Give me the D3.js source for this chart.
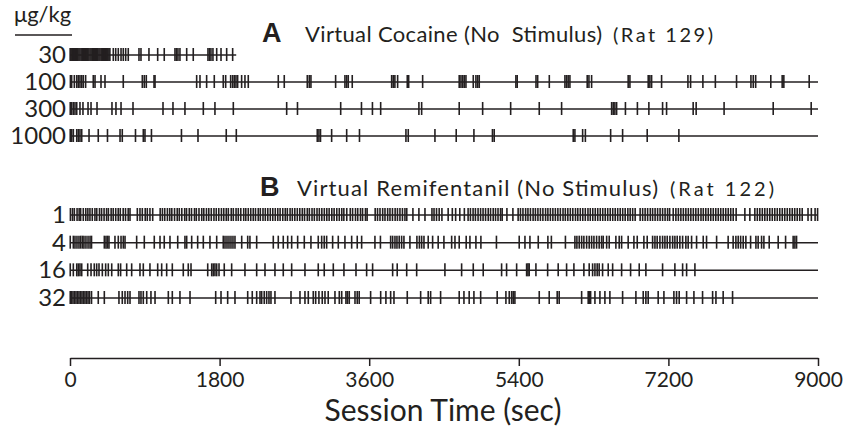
<!DOCTYPE html>
<html>
<head>
<meta charset="utf-8">
<script src="https://cdn.jsdelivr.net/npm/d3@7"></script>
<style>
  body { margin: 0; background: #fff; }
  text { font-family: Lato, "Open Sans", sans-serif; fill: #231f20; }
</style>
</head>
<body>
<div id="chart"></div>
<script>
// session time axis (sec)
const sessionEnd = 9000
const xTicks = [0, 1800, 3600, 5400, 7200, 9000]

// A: virtual cocaine, rat 129 (doses in ug/kg), event times in sec
const cocaineDoses = ["30", "100", "300", "1000"]
const cocaineEnd = [2000, 9000, 9000, 9000]
const coc30 = [2, 14, 27, 40, 54, 66, 80, 93, 107, 120, 134, 147, 160, 174, 187, 200, 214, 227, 241, 254, 268, 281, 294, 308, 321, 334, 348, 361, 375, 388, 401, 415, 428, 441, 455, 468, 480,
  521, 550, 581, 614, 641, 670, 701, 830, 854, 950, 1055, 1134, 1263, 1281, 1299, 1323, 1404, 1483,
  1660, 1678, 1696, 1720, 1765, 1817, 1885, 1957]
const coc100 = [5, 20, 52, 81, 100, 120, 141, 160, 188, 280, 301, 373, 421, 641, 870, 894, 918, 1011, 1023,
  1524, 1564, 1644, 1736, 1844, 1873, 1933, 1957, 1977, 1997, 2017, 2065, 2105, 2145, 2506, 2578,
  2855, 2879, 2899, 3196, 3308, 3329, 3348, 3396, 3870, 3889, 3909, 3942, 4058, 4075, 4243,
  4683, 4704, 4724, 4743, 4764, 4852, 4884, 4905, 4924, 5365, 5381, 5607, 5627, 5767,
  5955, 5975, 5994, 6015, 6223, 6244, 6276, 6716, 6737, 6957, 6977, 6998, 7118, 7435, 7467,
  7615, 7765, 8020, 8193, 8221, 8250, 8432, 8569, 8589, 8894]
const coc300 = [3, 20, 40, 60, 81, 120, 156, 217, 253, 325, 505, 553, 614, 758, 1119, 1239, 1383,
  1604, 1744, 1965, 2607, 2737, 3257, 3507, 3639, 3738, 4198, 4231, 4683, 4965, 5302, 5646, 5915,
  6517, 6536, 6556, 6577, 6683, 6827, 6965, 7130, 7178, 7498, 7534, 7870, 8461, 8918]
const coc1000 = [3, 20, 40, 81, 100, 120, 141, 229, 340, 451, 602, 629, 788, 882, 902, 980, 1341,
  1540, 1880, 2001, 2975, 2995, 3014, 3148, 3329, 3483, 4042, 4070, 4391, 4647, 4860, 5083, 5104,
  6055, 6075, 6168, 6201, 6505, 6649, 6945, 7326]

// B: virtual remifentanil, rat 122 (doses in ug/kg), event times in sec
const remiDoses = ["1", "4", "16", "32"]
const remiEnd = [9000, 9000, 9000, 9000]
const remi1 = [5, 30, 52, 85, 110, 128, 160, 190, 215, 240, 268, 300, 322, 355, 380, 410, 440, 462, 495, 520, 550, 580, 605, 640, 668, 700, 722,
  810, 842, 870, 905, 930, 962, 995,
  1085, 1112, 1140, 1172, 1200, 1225, 1258, 1290, 1315, 1345, 1380, 1402, 1435, 1462, 1498, 1520, 1552, 1585, 1610, 1642,
  1670, 1700, 1732, 1760, 1790, 1822, 1850, 1880, 1905, 1940, 1965, 1998, 2025, 2055, 2090, 2115, 2145, 2175, 2205, 2232,
  2265, 2290, 2322, 2350, 2380, 2410, 2440, 2470, 2500, 2528, 2560, 2590, 2615, 2648, 2675, 2705, 2735, 2765, 2795, 2822,
  2855, 2880, 2912, 2940, 2972, 3000, 3030, 3060, 3090, 3118, 3150, 3178, 3210, 3240, 3270, 3295,
  3330, 3372, 3400, 3435, 3462, 3495, 3520, 3555, 3575,
  3672, 3700, 3730, 3762, 3790, 3822, 3850, 3880, 3912, 3940, 3970, 4000, 4030, 4052,
  4126, 4198, 4271, 4355, 4380, 4410, 4442, 4475, 4550, 4600, 4640, 4690, 4745, 4790,
  4818, 4850, 4878, 4910, 4940, 4970, 5000, 5032, 5060, 5092, 5120, 5150, 5180, 5200, 5257, 5329,
  5392, 5420, 5450, 5482, 5510, 5540, 5572, 5600, 5630, 5660, 5690, 5722, 5750, 5780, 5810, 5840, 5870, 5900,
  5932, 5960, 5990, 6020, 6050, 6082, 6110, 6140, 6170, 6200, 6232, 6260, 6290, 6320, 6350, 6380, 6410, 6440,
  6470, 6500, 6530, 6560, 6590, 6620, 6650, 6680, 6712, 6740, 6770, 6800,
  6860, 6890, 6920, 6950, 6982, 7010, 7040, 7070, 7100, 7130, 7160, 7190, 7215,
  7258, 7290, 7320, 7350, 7380, 7410, 7440, 7470, 7500, 7530, 7560, 7592, 7620, 7650, 7680, 7710, 7740, 7770,
  7800, 7830, 7860, 7890, 7920, 7950, 7980, 8015, 8120, 8180, 8240,
  8270, 8300, 8330, 8360, 8390, 8420, 8450, 8480, 8510, 8540, 8570, 8600, 8630, 8660, 8690, 8720, 8750, 8780, 8810,
  8880, 8920, 8965, 8995]
const remi4 = [3, 40, 60, 84, 108, 129, 150, 168, 192, 217, 241, 259, 413, 433, 451, 469, 541, 581, 614, 641, 662,
  802, 894, 1014, 1083, 1134, 1203, 1296, 1383, 1404, 1464, 1536, 1604, 1684, 1765, 1844, 1865, 1889, 1913, 1937,
  1961, 1985, 2066, 2138, 2165, 2246, 2446, 2506, 2566, 2619, 2667, 2739, 2819, 2899, 2987, 3028, 3059, 3088,
  3160, 3228, 3308, 3389, 3456, 3509, 3669, 3735, 3858, 3882, 3910, 3934, 3961, 3990, 4018, 4090, 4174, 4204,
  4231, 4259, 4310, 4363, 4430, 4499, 4592, 4632, 4683, 4767, 4812, 4884, 4944, 5131, 5405, 5474, 5534, 5634,
  5750, 5792, 5961, 6075, 6099, 6127, 6156, 6183, 6216, 6247, 6276, 6304, 6336, 6367, 6396, 6416, 6457, 6488,
  6568, 6608, 6637, 6716, 6785, 6825, 6905, 6945, 7010, 7038, 7065, 7098, 7130, 7158, 7186, 7218, 7251, 7278,
  7306, 7338, 7371, 7410, 7438, 7479, 7539, 7619, 7659, 7780, 7919, 7979, 8012, 8040, 8069, 8100, 8132, 8189,
  8253, 8280, 8321, 8349, 8413, 8521, 8610, 8701, 8722, 8742]
const remi16 = [3, 40, 81, 100, 120, 141, 213, 253, 292, 321, 349, 389, 429, 461, 502, 581, 609, 682, 742, 842,
  882, 962, 1055, 1103, 1163, 1231, 1363, 1423, 1456, 1657, 1705, 1724, 1744, 1765, 1793, 1856, 1945, 2105,
  2246, 2346, 2466, 2566, 2667, 2827, 2987, 3059, 3168, 3296, 3441, 3569, 3641, 3882, 3937, 4051, 4171, 4511,
  4712, 4852, 4972, 5193, 5253, 5374, 5494, 5510, 5525, 5606, 5747, 5874, 5975, 6063, 6183, 6247, 6288, 6316,
  6343, 6367, 6408, 6476, 6529, 6637, 6745, 6849, 6929, 7130, 7278, 7371, 7419, 7519]
const remi32 = [3, 18, 36, 54, 72, 90, 108, 126, 144, 162, 180, 198, 217, 235, 259, 340, 413, 589, 629, 662, 694,
  722, 830, 854, 882, 923, 974, 1023, 1183, 1231, 1323, 1444, 1753, 1817, 1897, 1985, 2138, 2193, 2246, 2286,
  2306, 2337, 2366, 2394, 2418, 2466, 2659, 2767, 2827, 2867, 2927, 2956, 2995, 3035, 3068, 3107, 3188, 3240,
  3269, 3320, 3338, 3360, 3429, 3456, 3480, 3617, 3738, 3801, 3858, 3898, 4058, 4219, 4310, 4339, 4459, 4683,
  4740, 4803, 4860, 4941, 5140, 5245, 5285, 5314, 5333, 5353, 5646, 5766, 5862, 5886, 6156, 6235, 6250, 6264,
  6316, 6376, 6436, 6496, 6649, 6809, 6897, 6929, 6957, 7077, 7146, 7266, 7298, 7330, 7419, 7507, 7611, 7732,
  7772, 7859, 7972]

const ink = "#231f20"
const width = 847
const height = 437

const x = d3.scaleLinear().domain([0, sessionEnd]).range([70, 818])
const yA = d3.scalePoint().domain(cocaineDoses).range([55, 136])
const yB = d3.scalePoint().domain(remiDoses).range([215, 298])

const svg = d3
  .select("#chart")
  .append("svg")
  .attr("width", width)
  .attr("height", height)
  .attr("viewBox", [0, 0, width, height])

function drawRows(doses, events, ends, y, cls) {
  const g = svg.append("g").attr("class", cls)
  doses.forEach((dose, i) => {
    const row = g.append("g").attr("transform", `translate(0,${y(dose)})`)
    row
      .append("line")
      .attr("class", "base")
      .attr("x1", x(0))
      .attr("x2", x(ends[i]))
      .attr("stroke", ink)
      .attr("stroke-width", 1.5)
    row
      .selectAll("line.ev")
      .data(events[i])
      .join("line")
      .attr("class", "ev")
      .attr("x1", t => x(t))
      .attr("x2", t => x(t))
      .attr("y1", -7)
      .attr("y2", 6)
      .attr("stroke", ink)
      .attr("stroke-width", 1.6)
    row
      .append("text")
      .attr("x", 66)
      .attr("y", 8)
      .attr("text-anchor", "end")
      .attr("font-size", 24)
      .text(dose)
  })
}

drawRows(cocaineDoses, [coc30, coc100, coc300, coc1000], cocaineEnd, yA, "panel-a")
drawRows(remiDoses, [remi1, remi4, remi16, remi32], remiEnd, yB, "panel-b")

// dose unit header
svg.append("text").attr("x", 14).attr("y", 22).attr("font-size", 22).text("μg/kg")
svg
  .append("line")
  .attr("x1", 15)
  .attr("x2", 72)
  .attr("y1", 35)
  .attr("y2", 35)
  .attr("stroke", ink)
  .attr("stroke-width", 1.5)

// panel titles (text widths matched to the original with textLength)
function panelTitle(letter, title, rat, lx, tx, tw, rx, rw, baseline) {
  svg
    .append("text")
    .attr("x", lx)
    .attr("y", baseline)
    .attr("font-size", 27)
    .attr("font-weight", "bold")
    .style("font-family", "'Liberation Sans', Arial, sans-serif")
    .text(letter)
  svg
    .append("text")
    .attr("x", tx)
    .attr("y", baseline)
    .attr("font-size", 22)
    .attr("textLength", tw)
    .attr("lengthAdjust", "spacing")
    .style("white-space", "pre")
    .text(title)
  svg
    .append("text")
    .attr("x", rx)
    .attr("y", baseline)
    .attr("font-size", 20)
    .attr("textLength", rw)
    .attr("lengthAdjust", "spacing")
    .text(rat)
}
panelTitle("A", "Virtual Cocaine (No  Stimulus)", "(Rat 129)", 262, 305, 297, 613, 100, 42)
panelTitle("B", "Virtual Remifentanil (No Stimulus)", "(Rat 122)", 260, 297, 361, 670, 104, 196)

// time axis
svg
  .append("g")
  .attr("transform", "translate(0,358)")
  .call(
    d3
      .axisBottom(x)
      .tickValues(xTicks)
      .tickFormat(d3.format("d"))
      .tickSize(8)
      .tickSizeOuter(0)
      .tickPadding(6)
  )
  .call(g => g.select(".domain").attr("stroke", ink).attr("stroke-width", 1.5))
  .call(g => g.selectAll(".tick line").attr("stroke", ink).attr("stroke-width", 1.5))
  .call(g =>
    g
      .selectAll(".tick text")
      .attr("font-size", 21)
      .attr("fill", ink)
      .style("font-family", "Lato, 'Open Sans', sans-serif")
  )

svg
  .append("text")
  .attr("x", 443)
  .attr("y", 421)
  .attr("text-anchor", "middle")
  .attr("font-size", 30)
  .text("Session Time (sec)")
</script>
</body>
</html>
